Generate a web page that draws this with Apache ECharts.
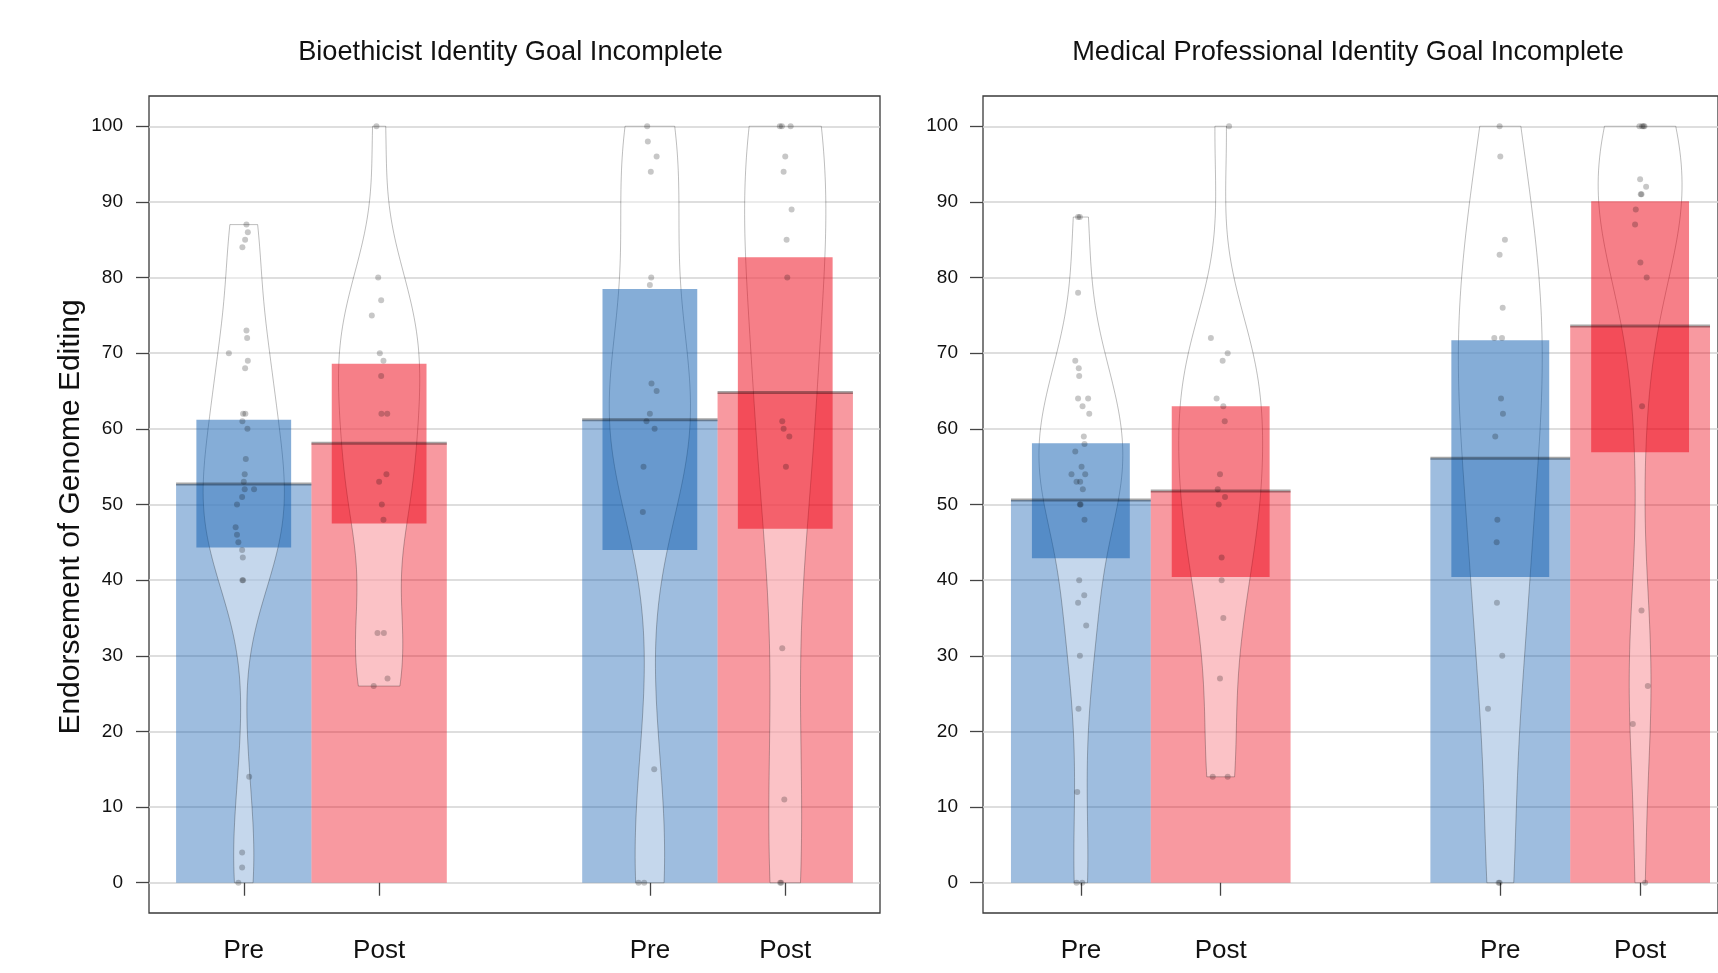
<!DOCTYPE html>
<html><head><meta charset="utf-8">
<script src="https://cdn.jsdelivr.net/npm/echarts@6/dist/echarts.min.js"></script>
<style>html,body{margin:0;padding:0;background:#fff}#c{width:1718px;height:973px}</style>
</head><body><div id="c"></div>
<script>
// ---------------- DATA ----------------
const panelTitles = ['Bioethicist Identity Goal Incomplete', 'Medical Professional Identity Goal Incomplete'];
const yAxisTitle = 'Endorsement of Genome Editing';
const groupLabels = ['Pre', 'Post', 'Pre', 'Post'];
const groupPositions = [1, 2, 4, 5];

// Panel 1: Bioethicist
const bioMeans     = [52.7, 58.1, 61.2, 64.8];
const bioBandLow   = [44.3, 47.5, 44.0, 46.8];
const bioBandHigh  = [61.2, 68.6, 78.5, 82.7];
const bioPre1  = [87,86,85,84,73,72,70,69,68,62,62,61,60,56,54,53,52,52,51,50,47,46,45,44,43,40,40,14,4,2,0];
const bioPre1Jit = [0.02,0.03,0.01,-0.01,0.02,0.025,-0.11,0.03,0.01,-0.005,0.012,-0.01,0.027,0.015,0.007,0,0.007,0.076,-0.012,-0.05,-0.06,-0.05,-0.04,-0.012,-0.007,-0.01,-0.005,0.04,-0.012,-0.012,-0.04];
const bioPost1 = [100,80,77,75,70,69,67,62,62,54,53,50,48,33,33,27,26];
const bioPost1Jit = [-0.02,-0.007,0.015,-0.054,0.005,0.032,0.015,0.017,0.06,0.054,0,0.02,0.032,-0.012,0.035,0.062,-0.04];
const bioPre2  = [100,98,96,94,80,79,66,65,62,61,60,55,49,15,0,0];
const bioPre2Jit = [-0.02,-0.015,0.05,0.007,0.01,0,0.012,0.05,0,-0.025,0.035,-0.047,-0.052,0.032,-0.084,-0.042];
const bioPost2 = [100,100,100,96,94,89,85,80,61,60,59,55,31,11,0,0];
const bioPost2Jit = [-0.04,-0.025,0.04,0,-0.012,0.047,0.01,0.015,-0.022,-0.012,0.03,0.005,-0.022,-0.007,-0.037,-0.03];

// Panel 2: Medical Professional
const medMeans     = [50.6, 51.8, 56.1, 73.6];
const medBandLow   = [42.9, 40.4, 40.4, 56.9];
const medBandHigh  = [58.1, 63.0, 71.7, 90.1];
const medPre1  = [88,88,78,69,68,67,64,64,63,62,59,58,57,55,54,54,53,53,52,50,50,48,40,38,37,34,30,23,12,0,0];
const medPre1Jit = [-0.02,-0.007,-0.02,-0.04,-0.015,-0.012,-0.02,0.052,0.012,0.06,0.021,0.026,-0.04,0.005,-0.067,0.031,-0.031,-0.005,0.014,-0.007,-0.002,0.026,-0.012,0.024,-0.02,0.038,-0.007,-0.017,-0.026,-0.031,0.01];
const medPost1 = [100,72,70,69,64,63,61,54,52,51,50,43,40,35,27,14,14];
const medPost1Jit = [0.06,-0.07,0.05,0.014,-0.029,0.019,0.029,-0.005,-0.021,0.031,-0.014,0.007,0.007,0.019,-0.005,-0.057,0.05];
const medPre2  = [100,96,85,83,76,72,72,64,62,59,48,45,37,30,23,0,0];
const medPre2Jit = [-0.005,0,0.033,-0.005,0.017,-0.043,0.012,0.005,0.019,-0.036,-0.021,-0.026,-0.024,0.014,-0.088,-0.012,-0.005];
const medPost2 = [100,100,100,100,93,92,91,91,89,87,82,80,63,36,26,21,0];
const medPost2Jit = [-0.005,0.014,0.024,0.031,0,0.043,0.005,0.01,-0.031,-0.036,0.002,0.047,0.014,0.01,0.055,-0.052,0.036];

// ---------------- STYLE / LAYOUT ----------------
const FONT = "'Liberation Sans', Arimo, Helvetica, Arial, sans-serif";
const groupRGB = [[12,91,176],[238,0,17],[12,91,176],[238,0,17]];
const rgba = (c, a) => `rgba(${c[0]},${c[1]},${c[2]},${a})`;
const TOP = 96, HEIGHT = 817, YMIN = -4, YMAX = 104;
const ppu = HEIGHT / (YMAX - YMIN);
const tickTop = TOP + (YMAX - 100) * ppu, tickHeight = 100 * ppu;
// panel 2 is cut by the right edge of the picture: its visible width ends past the canvas edge
const layout = [
  {left: 149, width: 731, xMin: 0.3, xMax: 5.7, titleX: 510.5, labelMargin: 26},
  {left: 983, width: 736, xMin: 0.3, xMax: 0.3 + 736 / 140, titleX: 1348, labelMargin: 25}
];
const BAR_HALF = 0.5, BAND_HALF = 0.35, BEAN_HALF = 0.3;

const panels = [
  {means: bioMeans, lo: bioBandLow, hi: bioBandHigh,
   pts: [bioPre1, bioPost1, bioPre2, bioPost2], jit: [bioPre1Jit, bioPost1Jit, bioPre2Jit, bioPost2Jit]},
  {means: medMeans, lo: medBandLow, hi: medBandHigh,
   pts: [medPre1, medPost1, medPre2, medPost2], jit: [medPre1Jit, medPost1Jit, medPre2Jit, medPost2Jit]}
];

// Gaussian kernel density (R default bw.nrd0), truncated at data range
function quantile7(sorted, p) {
  const h = (sorted.length - 1) * p, lo = Math.floor(h), hi = Math.ceil(h);
  return sorted[lo] + (h - lo) * (sorted[hi] - sorted[lo]);
}
function beanProfile(vals) {
  const s = vals.slice().sort((a, b) => a - b), n = s.length;
  const mean = s.reduce((a, b) => a + b, 0) / n;
  const sd = Math.sqrt(s.reduce((a, b) => a + (b - mean) * (b - mean), 0) / (n - 1));
  const iqr = quantile7(s, 0.75) - quantile7(s, 0.25);
  let lo = Math.min(sd, iqr / 1.34); if (!(lo > 0)) lo = sd || 1;
  const bw = 0.9 * lo * Math.pow(n, -0.2);
  const dens = y => s.reduce((a, v) => a + Math.exp(-0.5 * ((y - v) / bw) ** 2), 0);
  const mn = s[0], mx = s[n - 1];
  let maxD = 0;
  for (let k = 0; k <= 300; k++) { const y = mn - 3 * bw + (mx - mn + 6 * bw) * k / 300; maxD = Math.max(maxD, dens(y)); }
  const prof = [];
  const steps = 120;
  for (let k = 0; k <= steps; k++) { const y = mn + (mx - mn) * k / steps; prof.push([y, dens(y) / maxD * BEAN_HALF]); }
  return prof;
}

const chart = echarts.init(document.getElementById('c'), null, {renderer: 'canvas', width: 1718, height: 973});

const grid = [], xAxis = [], yAxis = [], series = [], graphic = [];
const axisCol = '#444';
layout.forEach((L, p) => {
  const P = panels[p];
  const gD = 2 * p, gT = 2 * p + 1;
  grid.push({left: L.left, top: TOP, width: L.width, height: HEIGHT, show: true, borderColor: '#3a3a3a', borderWidth: 1.3, backgroundColor: 'rgba(0,0,0,0)'});
  grid.push({left: L.left, top: tickTop, width: L.width, height: tickHeight});
  xAxis.push({gridIndex: gD, type: 'value', min: L.xMin, max: L.xMax, position: 'bottom',
    axisLine: {show: false}, splitLine: {show: false},
    axisTick: {show: true, customValues: groupPositions, length: 13, lineStyle: {color: axisCol, width: 1.3}},
    axisLabel: {show: true, customValues: groupPositions, fontSize: 26, color: '#111', fontFamily: FONT, margin: 25,
      formatter: v => { const i = groupPositions.indexOf(v); return i >= 0 ? groupLabels[i] : ''; }}});
  xAxis.push({gridIndex: gT, type: 'value', min: L.xMin, max: L.xMax, show: false});
  yAxis.push({gridIndex: gD, type: 'value', min: YMIN, max: YMAX, show: false});
  yAxis.push({gridIndex: gT, type: 'value', min: 0, max: 100, interval: 10, position: 'left',
    axisLine: {show: false},
    axisTick: {show: true, length: 13, lineStyle: {color: axisCol, width: 1.3}},
    axisLabel: {fontSize: 19, color: '#111', fontFamily: FONT, margin: L.labelMargin},
    splitLine: {show: true, lineStyle: {color: '#d3d3d3', width: 1.5}}});

  const profiles = P.pts.map(beanProfile);
  const base = {xAxisIndex: gD, yAxisIndex: gD, silent: true, animation: false};

  // bars (means)
  series.push(Object.assign({}, base, {type: 'custom', z: 2,
    data: groupPositions.map((x, i) => [x, P.means[i], i]),
    renderItem: (params, api) => {
      const x = api.value(0), m = api.value(1), i = api.value(2);
      const a = api.coord([x - BAR_HALF, m]), b = api.coord([x + BAR_HALF, 0]);
      return {type: 'rect', shape: {x: a[0], y: a[1], width: b[0] - a[0], height: b[1] - a[1]},
        style: {fill: rgba(groupRGB[i], 0.4)}};
    }}));
  // beans
  series.push(Object.assign({}, base, {type: 'custom', z: 3,
    data: groupPositions.map((x, i) => [x, P.means[i], i]),
    renderItem: (params, api) => {
      const x = api.value(0), i = api.value(2);
      const prof = profiles[i];
      const left = prof.map(([y, w]) => api.coord([x - w, y]));
      const right = prof.slice().reverse().map(([y, w]) => api.coord([x + w, y]));
      return {type: 'polygon', shape: {points: left.concat(right)},
        style: {fill: 'rgba(255,255,255,0.4)', stroke: 'rgba(0,0,0,0.26)', lineWidth: 1}};
    }}));
  // inference bands
  series.push(Object.assign({}, base, {type: 'custom', z: 4,
    data: groupPositions.map((x, i) => [x, P.lo[i], P.hi[i], i]),
    renderItem: (params, api) => {
      const x = api.value(0), lo = api.value(1), hi = api.value(2), i = api.value(3);
      const a = api.coord([x - BAND_HALF, hi]), b = api.coord([x + BAND_HALF, lo]);
      return {type: 'rect', shape: {x: a[0], y: a[1], width: b[0] - a[0], height: b[1] - a[1]},
        style: {fill: rgba(groupRGB[i], 0.5)}};
    }}));
  // raw points
  const ptData = [];
  P.pts.forEach((arr, i) => arr.forEach((v, k) => ptData.push([groupPositions[i] + P.jit[i][k], v])));
  series.push(Object.assign({}, base, {type: 'scatter', z: 5, symbol: 'circle', symbolSize: 6,
    itemStyle: {color: 'rgba(0,0,0,0.22)', opacity: 1, borderWidth: 0}, data: ptData}));
  // mean lines
  series.push(Object.assign({}, base, {type: 'custom', z: 6,
    data: groupPositions.map((x, i) => [x, P.means[i]]),
    renderItem: (params, api) => {
      const x = api.value(0), m = api.value(1);
      const a = api.coord([x - BAR_HALF, m]), b = api.coord([x + BAR_HALF, m]);
      return {type: 'line', shape: {x1: a[0], y1: a[1], x2: b[0], y2: b[1]},
        style: {stroke: 'rgba(0,0,0,0.35)', lineWidth: 3}};
    }}));

  graphic.push({type: 'text', x: L.titleX, y: 53, silent: true,
    style: {text: panelTitles[p], fontSize: 27.2, fill: '#111', fontFamily: FONT, align: 'center', verticalAlign: 'middle'}});
});
graphic.push({type: 'text', x: 71, y: 517, rotation: Math.PI / 2, silent: true,
  style: {text: yAxisTitle, fontSize: 30, fill: '#111', fontFamily: FONT, align: 'center', verticalAlign: 'middle'}});

chart.setOption({animation: false, backgroundColor: '#fff', grid, xAxis, yAxis, series, graphic});
</script></body></html>
